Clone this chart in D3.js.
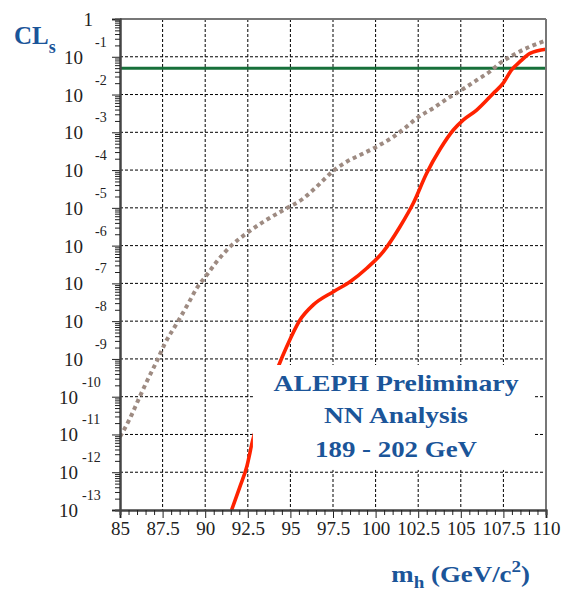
<!DOCTYPE html>
<html><head><meta charset="utf-8">
<script src="https://cdn.jsdelivr.net/npm/d3@7"></script>
<style>
html,body{margin:0;padding:0;background:#fff;}
svg{display:block;font-family:"Liberation Serif","Times New Roman",Times,serif;}
</style></head>
<body>
<script>
// ---- data ----
const xTickLabels = ["85","87.5","90","92.5","95","97.5","100","102.5","105","107.5","110"];
const xTickValues = [85,87.5,90,92.5,95,97.5,100,102.5,105,107.5,110];
const yTickExponents = [0,-1,-2,-3,-4,-5,-6,-7,-8,-9,-10,-11,-12,-13];

// dotted curve (expected CLs)
const expMass = [85.0,85.59,86.07,86.57,87.15,87.64,88.33,89.01,89.5,90.09,90.67,91.46,92.44,93.41,94.58,95.76,96.54,97.52,98.3,99.28,100.06,101.04,101.82,102.41,103.39,104.37,105.05,105.93,106.71,107.3,108.08,109.06,110];
const expCLs = [8.71e-12,2.69e-11,8.13e-11,2.51e-10,8.51e-10,2.57e-9,8.71e-9,2.95e-8,7.41e-8,1.66e-7,3.72e-7,9.33e-7,2.14e-6,4.27e-6,8.71e-6,1.78e-5,3.63e-5,9.55e-5,1.66e-4,2.75e-4,4.17e-4,7.59e-4,1.41e-3,2.34e-3,4.37e-3,8.71e-3,1.32e-2,2.40e-2,4.07e-2,6.76e-2,0.112,0.186,0.269];

// solid red curve (observed CLs)
const obsMass = [91.55,92.04,92.44,92.79,93.5,94.29,94.78,95.56,96.34,97.52,98.5,99.48,100.45,101.43,102.21,102.99,103.78,104.56,105.15,105.93,106.9,107.49,107.98,108.47,109.06,110];
const obsCLs = [1e-13,4.17e-13,1.41e-12,7.08e-12,6.76e-11,6.31e-10,2.09e-9,1.07e-8,2.69e-8,6.03e-8,1.10e-7,2.51e-7,6.92e-7,3.16e-6,1.32e-5,8.13e-5,3.55e-4,1.15e-3,2.14e-3,3.89e-3,1.07e-2,2.0e-2,4.47e-2,7.41e-2,0.123,0.158];

const threshold = 0.05;
const legendLines = ["ALEPH Preliminary","NN Analysis","189 - 202 GeV"];

// ---- layout ----
const W = 564, H = 592;
const L = 120, R = 546, T = 19, B = 510;
const blue = "#1b5599";

const svg = d3.select("body").append("svg").attr("width",W).attr("height",H);
const x = d3.scaleLinear().domain([85,110]).range([L,R]);
const y = d3.scaleLog().domain([1e-13,1]).range([B,T]);

svg.append("defs").append("clipPath").attr("id","clip")
  .append("rect").attr("x",L).attr("y",T).attr("width",R-L).attr("height",B-T);

// grid
const decades = yTickExponents.map(e => Math.pow(10,e));
const g = svg.append("g").attr("stroke","#000").attr("stroke-width",1).attr("stroke-dasharray","3,2");
g.selectAll("line.h").data(decades.filter(d=>d<1 && d>1e-13)).join("line")
  .attr("x1",L).attr("x2",R).attr("y1",d=>y(d)).attr("y2",d=>y(d));
g.selectAll("line.v").data(xTickValues.filter(d=>d>85 && d<110)).join("line")
  .attr("class","v").attr("y1",T).attr("y2",B).attr("x1",d=>x(d)).attr("x2",d=>x(d));

// curves
const plot = svg.append("g").attr("clip-path","url(#clip)");
const line = d3.line().x(d=>x(d[0])).y(d=>y(d[1])).curve(d3.curveMonotoneX);

plot.append("line").attr("x1",L).attr("x2",R).attr("y1",y(threshold)).attr("y2",y(threshold))
  .attr("stroke","#17703a").attr("stroke-width",3);

plot.append("path").datum(expMass.map((m,i)=>[m,expCLs[i]]))
  .attr("d",line).attr("fill","none").attr("stroke","#9e8b82")
  .attr("stroke-width",4).attr("stroke-dasharray","4,3.6");

plot.append("path").datum(obsMass.map((m,i)=>[m,obsCLs[i]]))
  .attr("d",line).attr("fill","none").attr("stroke","#ff2200")
  .attr("stroke-width",3.6).attr("stroke-linejoin","round");

// legend box
svg.append("rect").attr("x",x(92.8)).attr("y",y(6.9e-10)).attr("width",x(109.35)-x(92.8))
  .attr("height",y(1.15e-12)-y(6.9e-10)).attr("fill","#fff");
const legY = [391,423,457];
const legW = [245,144,162];
legendLines.forEach((t,i)=>{
  svg.append("text").attr("x",396).attr("y",legY[i]).attr("text-anchor","middle")
    .attr("font-size",24).attr("font-weight","bold").attr("fill",blue)
    .attr("textLength",legW[i]).attr("lengthAdjust","spacingAndGlyphs").text(t);
});

// frame
svg.append("line").attr("x1",L).attr("x2",R).attr("y1",T).attr("y2",T).attr("stroke","#777").attr("stroke-width",2);
svg.append("line").attr("x1",R).attr("x2",R).attr("y1",T).attr("y2",B).attr("stroke","#777").attr("stroke-width",2);

// x axis
const xMinor = d3.range(85,110.01,0.5).filter(v=>Math.abs(v/2.5-Math.round(v/2.5))>1e-6);
const xa = svg.append("g").attr("transform",`translate(0,${B})`);
xa.call(d3.axisBottom(x).tickValues(xTickValues).tickSize(8).tickFormat((d,i)=>xTickLabels[i]).tickPadding(4));
xa.append("g").call(d3.axisBottom(x).tickValues(xMinor).tickSize(5).tickFormat(""));
xa.selectAll(".domain").attr("stroke","#444").attr("stroke-width",2);
xa.selectAll("line").attr("stroke","#222");
xa.selectAll("text").attr("font-family","Liberation Serif").attr("font-size",19).attr("fill","#222");

// y axis
const yMinor = [];
yTickExponents.slice(1).forEach(e=>{ for(let k=2;k<=9;k++) yMinor.push(k*Math.pow(10,e)); });
const ya = svg.append("g").attr("transform",`translate(${L},0)`);
ya.call(d3.axisLeft(y).tickValues(decades).tickSize(8).tickFormat(""));
ya.append("g").call(d3.axisLeft(y).tickValues(yMinor).tickSize(5).tickFormat(""));
ya.selectAll(".domain").attr("stroke","#444").attr("stroke-width",2);
ya.selectAll("line").attr("stroke","#222");

// y labels 10^n
const yl = svg.append("g").attr("fill","#222");
yTickExponents.forEach(e=>{
  const ty = y(Math.pow(10,e));
  if(e===0){
    yl.append("text").attr("x",93).attr("y",ty+7).attr("text-anchor","end").attr("font-size",19).text("1");
    return;
  }
  const two = String(e).length>2;
  yl.append("text").attr("x",two?78:83).attr("y",ty+7).attr("text-anchor","end").attr("font-size",19).text("10");
  yl.append("text").attr("x",two?82:95).attr("y",ty-10).attr("text-anchor","start").attr("font-size",14).text(String(e));
});

// axis titles
const yt = svg.append("text").attr("x",14).attr("y",44).attr("font-size",25).attr("font-weight","bold").attr("fill",blue);
yt.append("tspan").text("CL");
yt.append("tspan").attr("font-size",18).attr("dy",9).text("s");

const xt = svg.append("g").attr("transform","translate(530,582) scale(1.12,1)");
const xtt = xt.append("text").attr("text-anchor","end").attr("font-size",24).attr("font-weight","bold").attr("fill",blue);
xtt.append("tspan").text("m");
xtt.append("tspan").attr("font-size",17).attr("dy",6).text("h");
xtt.append("tspan").attr("dy",-6).text(" (GeV/c");
xtt.append("tspan").attr("font-size",17).attr("dy",-10).text("2");
xtt.append("tspan").attr("dy",10).text(")");
</script>
</body></html>
